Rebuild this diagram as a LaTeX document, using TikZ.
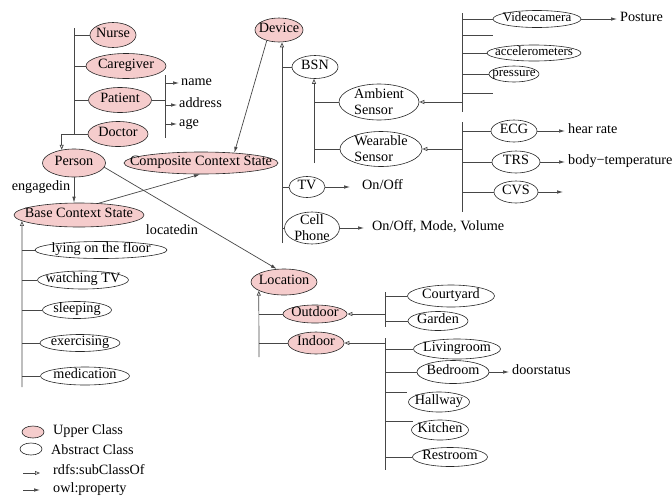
\documentclass[tikz,border=0pt]{standalone}
\usepackage{fontspec}
\setmainfont{Liberation Serif}
\usetikzlibrary{shapes.geometric,arrows.meta}
\definecolor{upperfill}{RGB}{245,204,204}
\definecolor{edgegray}{RGB}{70,70,70}

\tikzset{
  every node/.style={font=\fontsize{14.2}{16}\selectfont},
  lbl/.style={inner sep=0pt, text height=0.68em, text depth=0.2em},
  smalltext/.style={font=\fontsize{13}{15}\selectfont},
  ell/.style 2 args={ellipse, draw=black!85, line width=0.6pt, inner sep=0pt,
    minimum width=#1, minimum height=#2},
  cls/.style n args={3}{ell={#1}{#2}, label={[lbl]center:{#3}}},
  scls/.style n args={3}{ell={#1}{#2}, label={[lbl,smalltext]center:{#3}}},
  upper/.style={fill=upperfill},
  abstract/.style={fill=white},
  link/.style={draw=edgegray, line width=0.7pt},
  sub/.style={link, -{Triangle[open, length=5pt, width=4pt]}},
  prop/.style={link, -{Latex[length=6pt, width=3.5pt]}},
  txt/.style={inner sep=0pt, anchor=west, text height=0.68em, text depth=0.2em},
}

\begin{document}
\begin{tikzpicture}[x=1pt,y=-1pt]
\useasboundingbox (0,0) rectangle (672,496);

% ---------- Person and its subclasses ----------
\node[cls={46}{25}{Nurse}, upper] (nurse) at (113,35) {};
\node[cls={80}{25}{Caregiver}, upper] (caregiver) at (126,66) {};
\node[cls={63}{25}{Patient}, upper] (patient) at (120,100) {};
\node[cls={60}{25}{Doctor}, upper] (doctor) at (118,134) {};
\node[cls={63}{28}{Person}, upper] (person) at (74,163) {};

\coordinate (ptop) at (74,28);
\draw[link] (ptop) -- (ptop |- doctor.west);
\foreach \n in {nurse,caregiver,patient}
  \draw[link] (ptop |- \n.west) -- (\n.west);
\draw[sub] (doctor.west) -| (person.133);

% patient properties
\coordinate (pbr) at (165,75);
\coordinate (pbrend) at (165,138);
\draw[link] (pbr) -- (pbrend);
\draw[link] (patient.east) -- (pbr |- patient.east);
\node[txt] (name) at (181,83) {name};
\node[txt] (address) at (179,105) {address};
\node[txt] (age) at (179,124) {age};
\foreach \n in {name,address,age}
  \draw[prop, shorten >=2pt] (pbr |- \n.west) -- (\n.west);

% ---------- Context states ----------
\node[cls={154}{22}{Composite Context State}, upper] (ccs) at (201,163) {};
\node[cls={130}{24}{Base Context State}, upper] (bcs) at (79,215) {};
\draw[prop] (person.south) -- (person.south |- bcs.north);
\node (engagedin) at (41,187) {engagedin};
\draw[prop] (bcs.31) -- (ccs.265);

\node[cls={132}{17}{lying on the floor}, abstract] (lying) at (101,250) {};
\node[cls={91}{18}{watching TV}, abstract] (watching) at (83,280) {};
\node[cls={69}{17}{sleeping}, abstract] (sleeping) at (77,310) {};
\node[cls={80}{17}{exercising}, abstract] (exercising) at (80,343) {};
\node[cls={89}{18}{medication}, abstract] (medication) at (85,376) {};
\coordinate (bbot) at (22,387);
\draw[sub] (bbot) -- (bcs.186);
\foreach \n in {lying,watching,sleeping,exercising,medication}
  \draw[link] (bbot |- \n.west) -- (\n.west);

% ---------- Device ----------
\node[cls={48}{24}{Device}, upper] (device) at (279,30) {};
\draw[prop] (device.221) -- (ccs.17);
\coordinate (dbot) at (282,243);
\draw[sub] (dbot) -- (dbot |- device.south);

\node[cls={46}{23}{BSN}, abstract] (bsn) at (315,67) {};
\node[cls={36}{21}{TV}, abstract] (tv) at (307,187) {};
\node[ell={55}{32}, abstract,
  label={[inner sep=0pt, align=center]center:Cell\\Phone}] (cell) at (312,228) {};
\foreach \n in {bsn,tv,cell}
  \draw[link] (dbot |- \n.west) -- (\n.west);

\node[txt] (onoff) at (362,187) {On/Off};
\draw[prop, shorten >=12pt] (tv.east) -- (onoff.west);
\node[txt] (cellprops) at (372,228) {On/Off, Mode, Volume};
\draw[prop, shorten >=8pt] (cell.east) -- (cellprops.west);

% BSN subclasses
\node[ell={80}{36}, abstract,
  label={[inner sep=0pt, align=left]center:Ambient\\Sensor}] (ambient) at (379,102) {};
\node[ell={82}{35}, abstract,
  label={[inner sep=0pt, align=left]center:Wearable\\Sensor}] (wearable) at (381,149) {};
\coordinate (bsnbot) at (314,163);
\draw[sub] (bsnbot) -- (bsnbot |- bsn.south);
\foreach \n in {ambient,wearable}
  \draw[link] (bsnbot |- \n.west) -- (\n.west);

% ambient sensors
\coordinate (atop) at (462,13);
\coordinate (abot) at (462,112);
\draw[link] (atop) -- (abot);
\draw[sub] (atop |- ambient.east) -- (ambient.east);
\node[scls={88}{17}{Videocamera}, abstract] (video) at (537,19) {};
\node[scls={94}{16}{accelerometers}, abstract] (accel) at (534,53) {};
\node[scls={50}{16}{pressure}, abstract] (press) at (514,74) {};
\foreach \n in {video,accel,press}
  \draw[link] (atop |- \n.west) -- (\n.west);
\coordinate (astubA) at (493,35);
\coordinate (astubB) at (493,93);
\draw[link] (atop |- astubA) -- (astubA);
\draw[link] (atop |- astubB) -- (astubB);
\node[txt] (posture) at (620,19) {Posture};
\draw[prop, shorten >=3pt] (video.east) -- (posture.west);

% wearable sensors
\coordinate (wtop) at (462,122);
\coordinate (wbot) at (462,212);
\draw[link] (wtop) -- (wbot);
\draw[sub] (wtop |- wearable.east) -- (wearable.east);
\node[cls={46}{22}{ECG}, abstract] (ecg) at (514,131) {};
\node[cls={48}{22}{TRS}, abstract] (trs) at (516,162) {};
\node[cls={44}{22}{CVS}, abstract] (cvs) at (516,192) {};
\foreach \n in {ecg,trs,cvs}
  \draw[link] (wtop |- \n.west) -- (\n.west);
\node[txt] (hear) at (568,131) {hear rate};
\node[txt] (bodyt) at (568,162) {body−temperature};
\coordinate (cvsend) at (563,192);
\draw[prop, shorten >=3pt] (ecg.east) -- (hear.west);
\draw[prop, shorten >=3pt] (trs.east) -- (bodyt.west);
\draw[prop] (cvs.east) -- (cvsend);

% ---------- Location ----------
\node[cls={66}{26}{Location}, upper] (location) at (284,282) {};
\draw[prop] (person.-8) -- (location.119);
\node (locatedin) at (172,230) {locatedin};
\coordinate (lbot) at (259,357);
\draw[sub] (lbot) -- (location.199);

\node[cls={64}{18}{Outdoor}, upper] (outdoor) at (315,314) {};
\node[cls={56}{22}{Indoor}, upper] (indoor) at (316,343) {};
\foreach \n in {outdoor,indoor}
  \draw[link] (lbot |- \n.west) -- (\n.west);

% outdoor places
\coordinate (otop) at (385,292);
\coordinate (obot) at (385,327);
\draw[link] (otop) -- (obot);
\draw[sub] (otop |- outdoor.east) -- (outdoor.east);
\node[cls={87}{22}{Courtyard}, abstract] (courtyard) at (451,296) {};
\node[cls={60}{19}{Garden}, abstract] (garden) at (438,321) {};
\foreach \n in {courtyard,garden}
  \draw[link] (otop |- \n.west) -- (\n.west);

% indoor places
\coordinate (itop) at (385,338);
\coordinate (ibot) at (385,470);
\draw[link] (itop) -- (ibot);
\draw[sub] (itop |- indoor.east) -- (indoor.east);
\node[cls={87}{20}{Livingroom}, abstract] (living) at (457,349) {};
\node[cls={72}{23}{Bedroom}, abstract] (bedroom) at (453,372) {};
\node[cls={61}{20}{Hallway}, abstract] (hallway) at (439,402) {};
\node[cls={57}{20}{Kitchen}, abstract] (kitchen) at (440,430) {};
\node[cls={75}{19}{Restroom}, abstract] (restroom) at (450,457) {};
\foreach \n in {living,bedroom,restroom}
  \draw[link] (itop |- \n.west) -- (\n.west);
\coordinate (hallstub) at (407,392);
\coordinate (kitchstub) at (413,421);
\draw[link] (itop |- hallstub) -- (hallstub);
\draw[link] (itop |- kitchstub) -- (kitchstub);
\node[txt] (door) at (512,372) {doorstatus};
\draw[prop, shorten >=3pt] (bedroom.east) -- (door.west);

% ---------- Legend ----------
\node[ell={22}{12}, upper] (legup) at (33,432) {};
\node[txt] (legupt) at (53,432) {Upper Class};
\node[ell={22}{12}, abstract] (legabs) at (31,449) {};
\node[txt] (legabst) at (51,452) {Abstract Class};
\coordinate (lsub) at (23,473);
\coordinate (lsubend) at (40,473);
\draw[sub] (lsub) -- (lsubend);
\node[txt] (legsubt) at (53,472) {rdfs:subClassOf};
\coordinate (lprop) at (23,490);
\coordinate (lpropend) at (40,490);
\draw[prop] (lprop) -- (lpropend);
\node[txt] (legpropt) at (53,490) {owl:property};
\end{tikzpicture}
\end{document}
